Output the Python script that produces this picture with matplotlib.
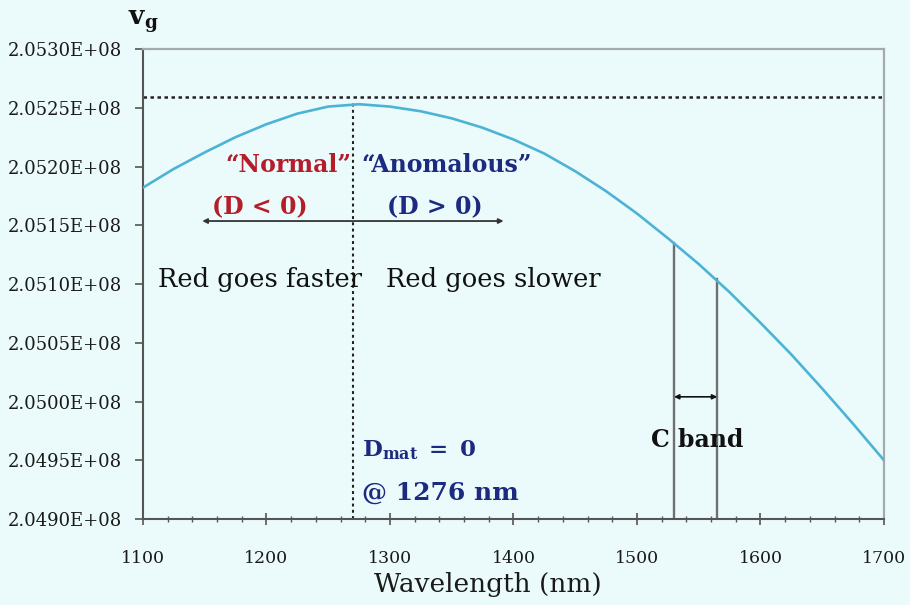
import numpy as np
import matplotlib.pyplot as plt
from matplotlib.ticker import MultipleLocator, FuncFormatter

# Group velocity vs wavelength (v_g in 1e8 m/s)
wavelength = [1100, 1125, 1150, 1175, 1200, 1225, 1250, 1275, 1300, 1325,
              1350, 1375, 1400, 1425, 1450, 1475, 1500, 1525, 1550, 1575,
              1600, 1625, 1650, 1675, 1700]
vg = [2.05182, 2.05198, 2.05212, 2.05225, 2.05236, 2.05245, 2.05251, 2.05253,
      2.05251, 2.05247, 2.05241, 2.05233, 2.05223, 2.05211, 2.05196, 2.05179,
      2.05160, 2.05139, 2.05117, 2.05093, 2.05067, 2.05040, 2.05011, 2.04981,
      2.04950]
vg = np.array(vg) * 1e8

y_ticks = [2.0490, 2.0495, 2.0500, 2.0505, 2.0510, 2.0515, 2.0520, 2.0525, 2.0530]
x_ticks = [1100, 1200, 1300, 1400, 1500, 1600, 1700]

vg_max_line = 2.05259e8      # dotted horizontal line
zero_disp = 1270             # dotted vertical line (D_mat = 0)
c_band = [1530, 1565]
c_band_top = [2.05135e8, 2.05104e8]

bg = '#ebfbfc'
navy = '#1c2a80'
red = '#b51d2b'
serif = 'DejaVu Serif'
plt.rcParams['mathtext.fontset'] = 'dejavuserif'

fig = plt.figure(figsize=(9.1, 6.05), dpi=100, facecolor=bg)
ax = fig.add_axes([0.1571, 0.1421, 0.8143, 0.7769], facecolor=bg)

ax.plot(wavelength, vg, color='#4db3d4', lw=1.9, zorder=3)

# reference lines
ax.axhline(vg_max_line, color='#222222', lw=1.8, ls=(0, (1.4, 1.4)), zorder=2)
ax.plot([zero_disp, zero_disp], [2.0490e8, 2.05256e8], color='#222222',
        lw=1.5, ls=(0, (1.4, 1.6)), zorder=2)

# C band lines and arrow
for x, top in zip(c_band, c_band_top):
    ax.plot([x, x], [2.0490e8, top], color='#707070', lw=1.7, zorder=2)
ax.annotate('', xy=(c_band[0], 2.05004e8), xytext=(c_band[1], 2.05004e8),
            arrowprops=dict(arrowstyle='<|-|>', color='#111111', lw=1.2,
                            mutation_scale=7, shrinkA=0, shrinkB=0))
ax.text(1549, 2.04967e8, 'C band', ha='center', va='center', fontsize=17,
        fontweight='bold', family=serif, color='#111111')

# dispersion regimes
ax.annotate('', xy=(1148, 2.051536e8), xytext=(1392, 2.051536e8),
            arrowprops=dict(arrowstyle='<|-|>', color='#333333', lw=1.3,
                            mutation_scale=7, shrinkA=0, shrinkB=0))
ax.text(1269, 2.05201e8, '“Normal”', ha='right', va='center', fontsize=17,
        fontweight='bold', family=serif, color=red)
ax.text(1277, 2.05201e8, '“Anomalous”', ha='left', va='center', fontsize=17,
        fontweight='bold', family=serif, color=navy)
ax.text(1195, 2.05165e8, '(D < 0)', ha='center', va='center', fontsize=17,
        fontweight='bold', family=serif, color=red)
ax.text(1336, 2.05165e8, '(D > 0)', ha='center', va='center', fontsize=17,
        fontweight='bold', family=serif, color=navy)
ax.text(1112, 2.05104e8, 'Red goes faster', ha='left', va='center',
        fontsize=18.5, family=serif, color='#111111')
ax.text(1297, 2.05104e8, 'Red goes slower', ha='left', va='center',
        fontsize=18.5, family=serif, color='#111111')

ax.text(1277, 2.04959e8, r'$\mathbf{D_{mat}\ =\ 0}$', ha='left', va='center',
        fontsize=16.5, color=navy)
ax.text(1277, 2.04922e8, '@ 1276 nm', ha='left', va='center', fontsize=18,
        fontweight='bold', family=serif, color=navy)

# axes
ax.set_xlim(1100, 1700)
ax.set_ylim(2.0490e8, 2.0530e8)
ax.set_xticks(x_ticks)
ax.xaxis.set_minor_locator(MultipleLocator(20))
ax.set_yticks([v * 1e8 for v in y_ticks])
ax.yaxis.set_major_formatter(FuncFormatter(lambda v, p: f'{v:.4E}'))

ax.tick_params(axis='x', which='major', direction='inout', length=9, width=1.2,
               color='#555555', pad=18, labelsize=12.5)
ax.tick_params(axis='x', which='minor', direction='inout', length=5, width=1,
               color='#555555')
ax.tick_params(axis='y', direction='out', length=6, width=1.2, color='#555555',
               pad=9, labelsize=13)
for lab in ax.get_xticklabels() + ax.get_yticklabels():
    lab.set_family(serif)
    lab.set_color('#1a1a1a')

for s in ['left', 'bottom']:
    ax.spines[s].set_color('#555555')
    ax.spines[s].set_linewidth(1.5)
for s in ['top', 'right']:
    ax.spines[s].set_color('#a3abae')
    ax.spines[s].set_linewidth(1.6)

ax.set_xlabel('Wavelength (nm)', fontsize=19, family=serif, color='#1a1a1a')
ax.xaxis.set_label_coords(0.465, -0.140)
ax.xaxis.label.set_va('center')

fig.text(128 / 910, 1 - 22 / 605, r'$\mathbf{v_g}$', fontsize=19,
         color='#111111', ha='left', va='center')

plt.savefig('out.png', dpi=100, facecolor=bg)
